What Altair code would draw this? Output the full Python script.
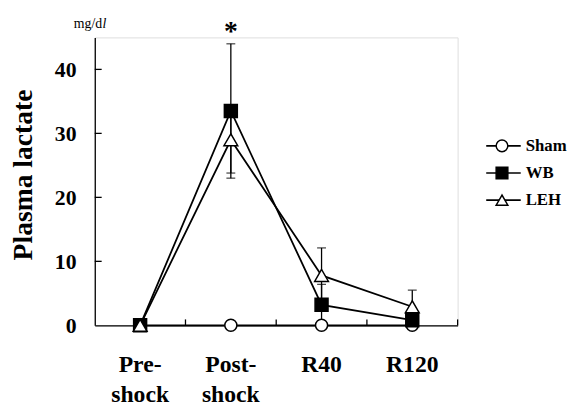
import altair as alt
import pandas as pd

# ---- data ----
times = ["Pre-shock", "Post-shock", "R40", "R120"]
groups = ["Sham", "WB", "LEH"]
sham_mean = [0.0, 0.0, 0.0, 0.0]
sham_err = [0.0, 0.0, 0.0, 0.0]
wb_mean = [0.0, 33.5, 3.2, 0.8]
wb_err = [0.0, 10.5, 3.2, 0.8]
leh_mean = [0.0, 29.0, 7.8, 2.9]
leh_err = [0.0, 5.2, 4.3, 2.6]
y_ticks = [0, 10, 20, 30, 40]
sig_time = ["Post-shock"]
sig_label = ["*"]

means = {"Sham": sham_mean, "WB": wb_mean, "LEH": leh_mean}
errs = {"Sham": sham_err, "WB": wb_err, "LEH": leh_err}

rows = []
for g in groups:
    for t, m, e in zip(times, means[g], errs[g]):
        rows.append({"time": t, "group": g, "mean": m, "err": e,
                     "lo": max(m - e, 0), "hi": m + e})
df = pd.DataFrame(rows)
err_df = df[df["err"] > 0]
cap_df = pd.concat([
    err_df[["time", "group", "lo"]].rename(columns={"lo": "cap"}),
    err_df[["time", "group", "hi"]].rename(columns={"hi": "cap"}),
])
tick_df = pd.DataFrame({"v": y_ticks[1:]})
time_df = pd.DataFrame({"time": times})
one_df = pd.DataFrame({"k": [0]})
group_df = pd.DataFrame({"group": groups})
sig_df = pd.DataFrame({"time": sig_time, "label": sig_label, "y": [45.9]})

W, H = 368, 292
SERIF = "Liberation Serif"

xscale = alt.Scale(type="band", domain=times, paddingInner=0, paddingOuter=0)
yscale = alt.Scale(domain=[0, 45], nice=False, zero=True)
shape_scale = alt.Scale(domain=groups, range=["circle", "square", "triangle-up"])
fill_scale = alt.Scale(domain=groups, range=["white", "black", "white"])

label_expr = ("indexof(datum.label,'-')>0 ? "
              "[substring(datum.label,0,indexof(datum.label,'-')+1),"
              " substring(datum.label,indexof(datum.label,'-')+1)] : datum.label")

xaxis = alt.Axis(title=None, ticks=False, tickSize=0, grid=False, labelAngle=0,
                 domainColor="black", domainWidth=1.3,
                 labelFont=SERIF, labelFontSize=24, labelFontWeight="bold",
                 labelColor="black", labelPadding=28, labelBaseline="top",
                 labelLineHeight=30, labelExpr=label_expr)
yaxis = alt.Axis(title="Plasma lactate", values=y_ticks, ticks=False, tickSize=0,
                 grid=False, domainColor="black", domainWidth=1.3,
                 labelFont=SERIF, labelFontSize=22, labelFontWeight="bold",
                 labelColor="black", labelPadding=19,
                 titleFont=SERIF, titleFontSize=28, titleFontWeight="bold",
                 titleColor="black", titleAngle=270, titleX=-72, titleY=139,
                 titleBaseline="middle", titleAlign="center")

X = alt.X("time:N", sort=times, scale=xscale, axis=xaxis)


def Y(field):
    return alt.Y(field, scale=yscale, axis=yaxis)


lines = alt.Chart(df).mark_line(color="black", strokeWidth=1.8).encode(
    x=X, y=Y("mean:Q"), detail="group:N")

bars = alt.Chart(err_df).mark_rule(color="black", strokeWidth=1.3).encode(
    x=X, y=Y("lo:Q"), y2="hi:Q")

caps = alt.Chart(cap_df).mark_tick(color="black", thickness=1.3, size=9,
                                   orient="horizontal").encode(
    x=X, y=Y("cap:Q"))

points = alt.Chart(df).mark_point(filled=True, stroke="black", strokeWidth=1.5,
                                  opacity=1).encode(
    x=X, y=Y("mean:Q"),
    shape=alt.Shape("group:N", scale=shape_scale, legend=None),
    fill=alt.Fill("group:N", scale=fill_scale, legend=None),
    size=alt.Size("group:O", scale=alt.Scale(domain=groups,
                  range=[150, 196, 196]), legend=None),
    order=alt.Order("gi:Q"),
).transform_calculate(gi="indexof(['Sham','WB','LEH'], datum.group)")

yt = alt.Chart(tick_df).mark_rule(color="black", strokeWidth=1.3).encode(
    y=Y("v:Q"), x=alt.value(0), x2=alt.value(7))

xt = alt.Chart(time_df).mark_rule(color="black", strokeWidth=1.3).encode(
    x=alt.X("time:N", sort=times, scale=xscale, axis=xaxis, bandPosition=1),
    y=alt.value(H), y2=alt.value(H - 6))

sig = alt.Chart(sig_df).mark_text(font=SERIF, fontSize=28, fontWeight="bold",
                                  color="black", baseline="middle").encode(
    x=X, y=Y("y:Q"), text="label:N")

unit1 = alt.Chart(one_df).mark_text(text="mg/d", font=SERIF, fontSize=14,
                                    fontWeight="normal",
                                    color="black", align="right",
                                    baseline="alphabetic").encode(
    x=alt.value(7.5), y=alt.value(-10))
unit2 = alt.Chart(one_df).mark_text(text="l", font=SERIF, fontSize=14,
                                    fontWeight="normal",
                                    fontStyle="italic", color="black",
                                    align="left", baseline="alphabetic").encode(
    x=alt.value(7.8), y=alt.value(-10))

main = alt.layer(lines, bars, caps, points, yt, xt, sig, unit1, unit2)

# ---- legend (line + marker + label) ----
LY = alt.Y("group:N", sort=groups, axis=None,
           scale=alt.Scale(type="point", domain=groups, range=[110, 165],
                           padding=0))
leg_line = alt.Chart(group_df).mark_rule(color="black", strokeWidth=1.6).encode(
    y=LY, x=alt.value(397), x2=alt.value(432))
leg_pts = alt.Chart(group_df).mark_point(filled=True, stroke="black",
                                         strokeWidth=1.5, opacity=1,
                                         size=140).encode(
    y=LY, x=alt.value(413),
    shape=alt.Shape("group:N", scale=shape_scale, legend=None),
    fill=alt.Fill("group:N", scale=fill_scale, legend=None))
leg_txt = alt.Chart(group_df).mark_text(font=SERIF, fontSize=17,
                                        fontWeight="bold", color="black",
                                        align="left", baseline="middle").encode(
    y=LY, x=alt.value(437), text="group:N")
legend = alt.layer(leg_line, leg_pts, leg_txt)

chart = alt.layer(main, legend).resolve_scale(y="independent").properties(
    width=W, height=H,
    autosize=alt.AutoSizeParams(type="none"),
    padding={"left": 88, "top": 27, "right": 116, "bottom": 79},
).configure_view(stroke=None).configure(background="white")

chart.save("out.html", embed_options={"renderer": "svg", "actions": False})
